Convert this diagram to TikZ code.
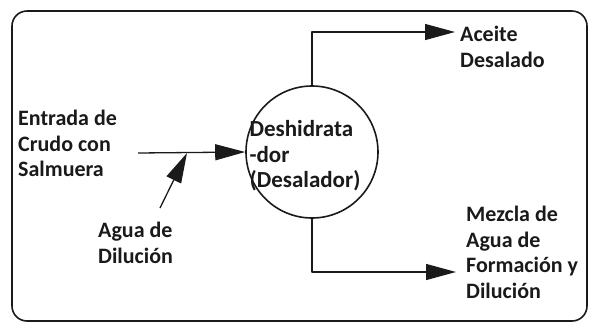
\documentclass[tikz,border=0pt]{standalone}
\usepackage{fontspec}
\setmainfont{Carlito}
\usetikzlibrary{arrows.meta,positioning}
\definecolor{ink}{HTML}{1A1A1A}
\tikzset{
  every picture/.style={line join=round},
  flow/.style={line width=1.3pt, ink, -{Triangle[length=30pt,width=16pt]}},
  label/.style={font=\fontsize{22}{25.5}\selectfont\bfseries, text=ink, align=left, inner sep=0pt, anchor=north west},
  unit/.style={circle, draw=ink, line width=1.6pt, minimum size=132pt, inner sep=0pt},
}

\begin{document}
\begin{tikzpicture}[x=1pt,y=-1pt]
\useasboundingbox (0,0) rectangle (590,325);
\draw[ink, line width=1.6pt, rounded corners=15pt] (12,11) rectangle (587,321);
% equipo
\node[unit] (desal) at (312,152) {};
\node[label, anchor=center, font=\fontsize{23}{25.5}\selectfont\bfseries] (desalTxt) at (305,156) {Deshidrata\\-dor\\(Desalador)};
% textos
\node[label] (entrada) at (18,110) {Entrada de\\Crudo con\\Salmuera};
\node[label] (agua) at (98,222) {Agua de\\Diluci\'on};
\node[label] (aceite) at (460,26) {Aceite\\Desalado};
\node[label] (mezcla) at (466,206) {Mezcla de\\Agua de\\Formaci\'on y\\Diluci\'on};
% puntos de las lineas
\coordinate (inStart) at (138,153);
\coordinate (joinPt) at (187,153);
\coordinate (dilStart) at (160,208);
\coordinate (topEnd) at (455,32);
\coordinate (botEnd) at (456,272);
% corrientes
\draw[flow] (inStart) -- (desal.west);
\draw[flow] (dilStart) -- (joinPt);
\draw[flow] (desal.north) |- (topEnd);
\draw[flow] (desal.south) |- (botEnd);
\end{tikzpicture}
\end{document}
